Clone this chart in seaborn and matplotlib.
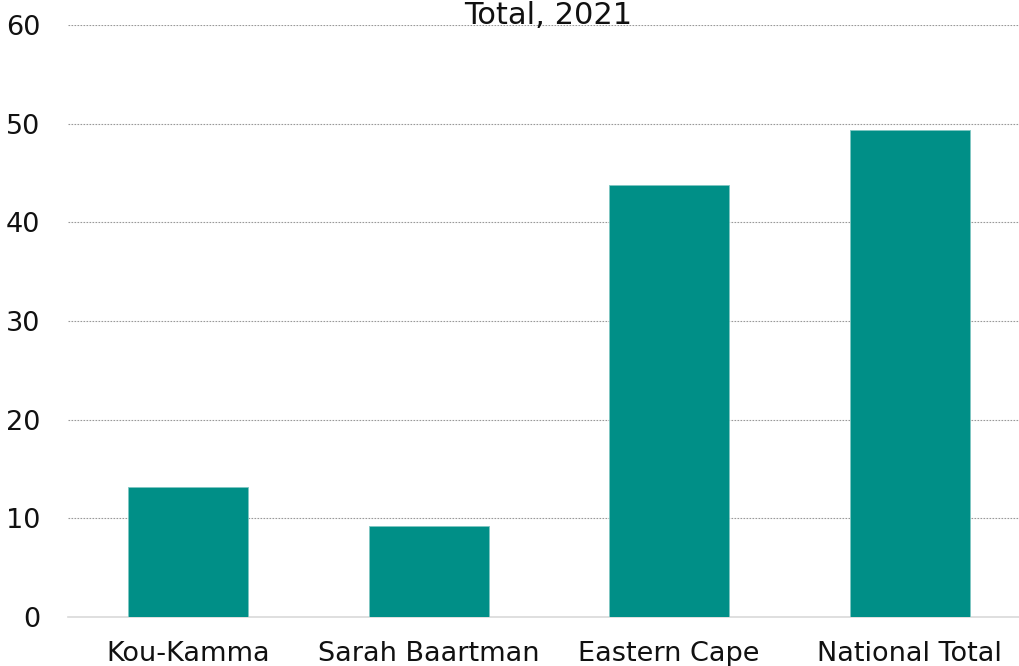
import matplotlib
matplotlib.use("Agg")
import matplotlib.pyplot as plt
import seaborn as sns
import pandas as pd

categories = ["Kou-Kamma", "Sarah Baartman", "Eastern Cape", "National Total"]
values = [13.2, 9.2, 43.8, 49.4]
y_ticks = [0, 10, 20, 30, 40, 50, 60]
title = "Total, 2021"

df = pd.DataFrame({"region": categories, "value": values})

sns.set_theme(style="white")
plt.rcParams["font.family"] = ["DejaVu Sans"]

fig = plt.figure(figsize=(10.19, 6.66), dpi=100)
ax = fig.add_axes([68 / 1019, 49 / 666, (1030 - 68) / 1019, (617 - 25) / 666])

sns.barplot(data=df, x="region", y="value", color="#008F87", width=0.5,
            saturation=1, edgecolor="#7fc7c2", linewidth=0.6, ax=ax, zorder=3)

ax.set_xlim(-0.5, len(categories) - 0.5)
ax.set_ylim(0, 60)
ax.set_yticks(y_ticks)
ax.set_yticklabels([str(t) for t in y_ticks], fontsize=19.5, color="#111111")
ax.set_xlabel("")
ax.set_ylabel("")

# dotted gridlines above zero
for t in y_ticks[1:]:
    ax.axhline(t, color="#999999", linestyle=(0, (1.5, 1.2)), linewidth=0.8, zorder=1)

for side in ["top", "right", "left"]:
    ax.spines[side].set_visible(False)
ax.spines["bottom"].set_color("#d9d9d9")
ax.spines["bottom"].set_linewidth(1.2)

ax.tick_params(axis="y", length=0, pad=20)
# category labels centred, tick marks at category boundaries
ax.set_xticks(range(len(categories)))
ax.set_xticklabels(categories, fontsize=19.5, color="#111111")
ax.tick_params(axis="x", which="major", length=0, pad=17)
ax.set_xticks([i - 0.5 for i in range(len(categories) + 1)], minor=True)
ax.tick_params(axis="x", which="minor", length=8, width=1.2, color="#d9d9d9",
               direction="inout")

fig.text(548 / 1019, 1 - 24 / 666, title, ha="center", va="baseline",
         fontsize=22, color="#111111", zorder=5,
         bbox=dict(facecolor="none", edgecolor="none", pad=0))

fig.savefig("out.png", dpi=100)
